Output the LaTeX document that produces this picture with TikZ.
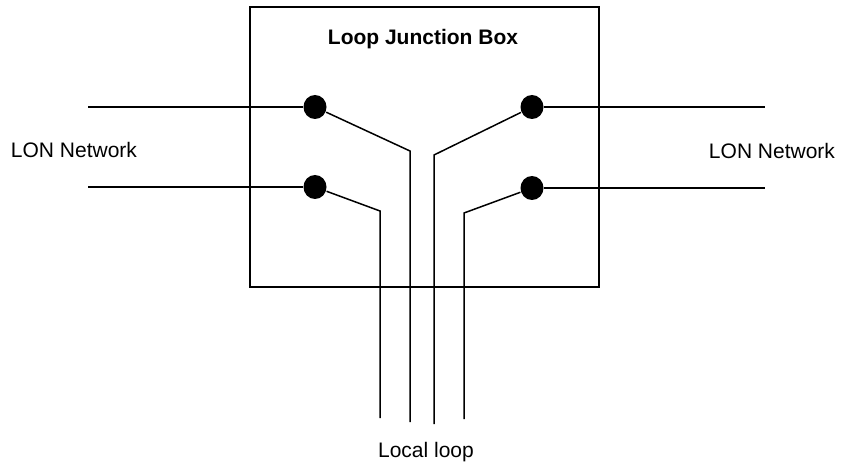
\documentclass[tikz,border=0pt]{standalone}
\usepackage{fontspec}
\setmainfont{Liberation Sans}
\usetikzlibrary{shapes.geometric}
\begin{document}
\begin{tikzpicture}[x=1pt,y=-1pt,line width=1.5pt,
    dot/.style={ellipse,fill,inner sep=0pt,minimum width=23pt,minimum height=24pt},
    lbl/.style={font=\fontsize{21}{25}\selectfont,anchor=base,inner sep=0pt}]
    \useasboundingbox (0,0) rectangle (841,465);
    \begin{scope}

    % junction box
    \draw (250,7) rectangle (599,287);
    \node [lbl,font=\fontsize{21}{25}\selectfont\bfseries] (title) at (423,45) {Loop Junction Box};

    % terminals
    \node [dot] (tl) at (315,107) {};
    \node [dot] (bl) at (315,187) {};
    \node [dot] (tr) at (532,107) {};
    \node [dot] (br) at (532,188) {};

    % network lines
    \coordinate (ntl) at (88,107);
    \coordinate (nbl) at (88,187);
    \coordinate (ntr) at (765,107);
    \coordinate (nbr) at (765,188);
    \draw (ntl) -- (tl);
    \draw (nbl) -- (bl);
    \draw (tr) -- (ntr);
    \draw (br) -- (nbr);

    % local loop wires
    \coordinate (ktl) at (410,151);
    \coordinate (kbl) at (380,211);
    \coordinate (ktr) at (434,155);
    \coordinate (kbr) at (464,213);
    \coordinate (etl) at (410,422);
    \coordinate (ebl) at (380,418);
    \coordinate (etr) at (434,424);
    \coordinate (ebr) at (464,419);
    \draw (tl) -- (ktl) -- (etl);
    \draw (bl) -- (kbl) -- (ebl);
    \draw (tr) -- (ktr) -- (etr);
    \draw (br) -- (kbr) -- (ebr);

    \node [lbl] (netl) at (74,158) {LON Network};
    \node [lbl] (netr) at (772,159) {LON Network};
    \node [lbl] (loop) at (426,457) {Local loop};

    \end{scope}
\end{tikzpicture}
\end{document}
